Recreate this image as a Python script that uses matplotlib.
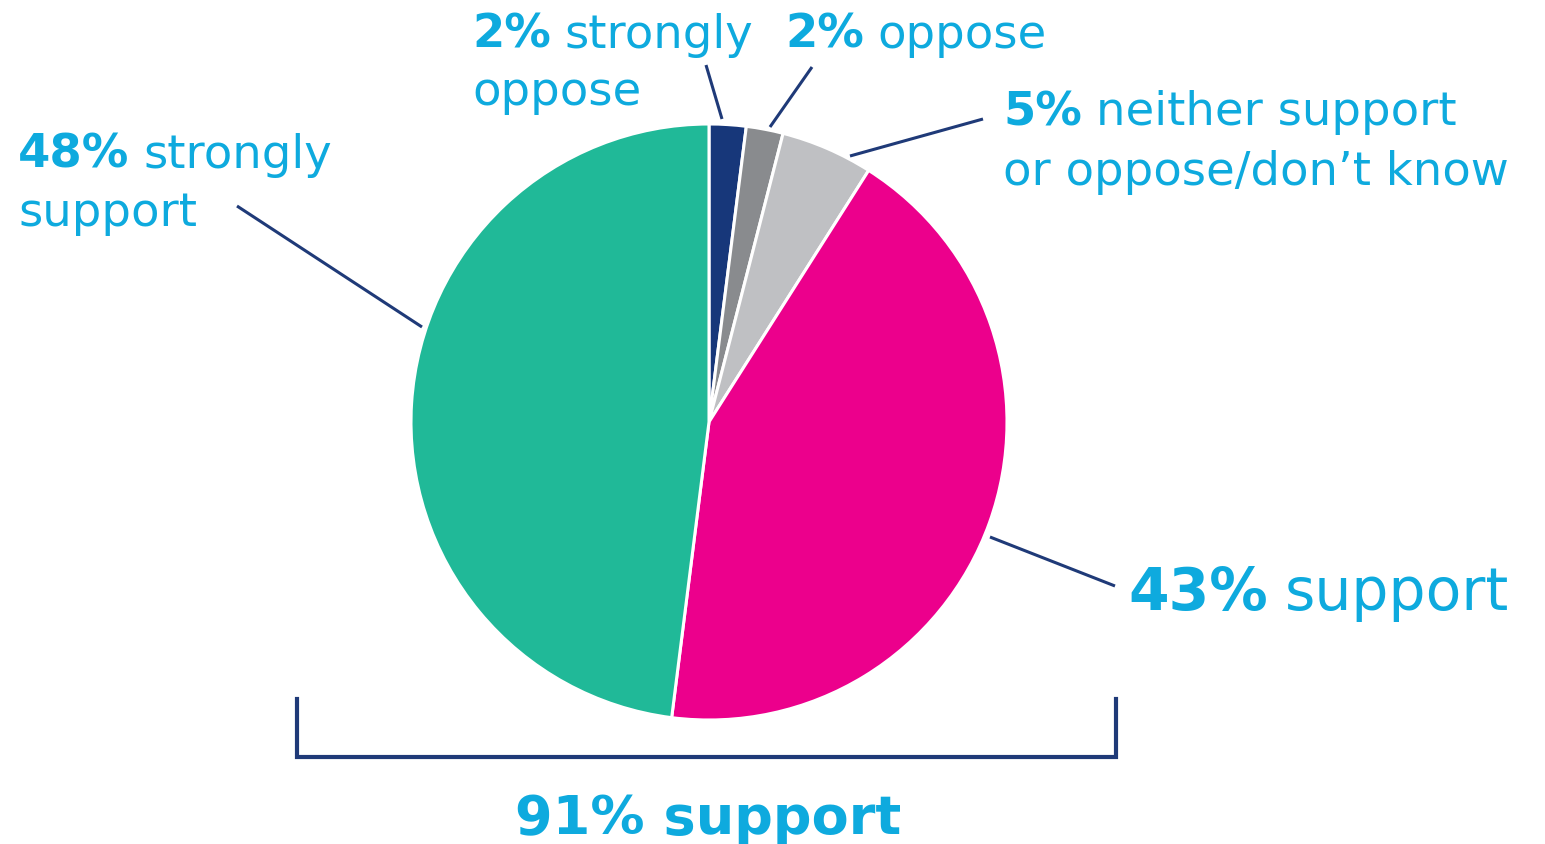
import matplotlib
matplotlib.use("Agg")
import matplotlib.pyplot as plt

# survey shares, clockwise from 12 o'clock
categories = ["strongly oppose", "oppose", "neither support or oppose/don't know",
              "support", "strongly support"]
values = [2, 2, 5, 43, 48]
colors = ["#17377a", "#898b8e", "#bfc0c3", "#ec008c", "#20b998"]
total_support = values[3] + values[4]

W, H = 1545, 845
TEXT = "#0eaade"
NAVY = "#1f3a78"

fig = plt.figure(figsize=(W / 100, H / 100), dpi=100)
ax = fig.add_axes([0, 0, 1, 1])

def Y(y):
    # pixel rows from the top -> data y
    return H - y

ax.pie(values, colors=colors, startangle=90, counterclock=False,
       center=(709, Y(423)), radius=298,
       wedgeprops=dict(edgecolor="white", linewidth=2.2))
ax.set_xlim(0, W)
ax.set_ylim(0, H)
ax.set_aspect("equal")
ax.axis("off")

renderer = fig.canvas.get_renderer()


def label(x, y, bold, rest, size):
    t = ax.text(x, Y(y), bold, fontsize=size, fontweight="bold", color=TEXT,
                ha="left", va="baseline")
    w = t.get_window_extent(renderer).width
    gap = 0.3 * size * 100 / 72
    if rest:
        ax.text(x + w + gap, Y(y), rest, fontsize=size, color=TEXT,
                ha="left", va="baseline")


def plain(x, y, s, size):
    ax.text(x, Y(y), s, fontsize=size, color=TEXT, ha="left", va="baseline")


# labels
fs = 33.5
label(472, 48, f"{values[0]}%", "strongly", fs)
plain(472, 105, "oppose", fs)
label(785, 48, f"{values[1]}%", "oppose", fs)
label(1003, 125, f"{values[2]}%", "neither support", fs)
plain(1003, 185, "or oppose/don\u2019t know", fs)
label(18, 168, f"{values[4]}%", "strongly", fs)
plain(18, 226, "support", fs)
label(1128, 610, f"{values[3]}%", "support", 42)

# leader lines
leaders = [
    ((706, 66), (722, 120)),
    ((812, 68), (770, 128)),
    ((983, 120), (850, 157)),
    ((990, 538), (1115, 587)),
    ((237, 207), (422, 328)),
]
for (x0, y0), (x1, y1) in leaders:
    ax.plot([x0, x1], [Y(y0), Y(y1)], color=NAVY, lw=2.2, solid_capstyle="butt")

# bracket under the pie
ax.plot([297, 297, 1116, 1116], [Y(700), Y(758), Y(758), Y(700)],
        color=NAVY, lw=3, solid_joinstyle="miter")
ax.text(708, Y(834), f"{total_support}% support", fontsize=39, fontweight="bold",
        color=TEXT, ha="center", va="baseline")

fig.savefig("out.png", dpi=100, facecolor="white")
